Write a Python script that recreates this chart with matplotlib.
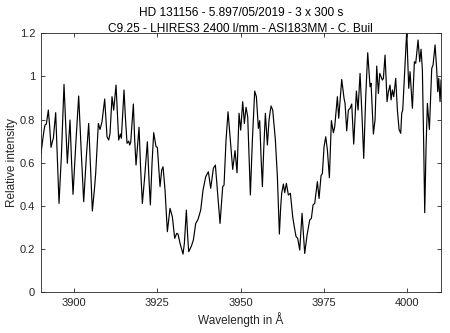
import matplotlib
matplotlib.use("Agg")
import matplotlib.pyplot as plt
from matplotlib.ticker import FuncFormatter

# spectrum, wavelength in Angstrom
wavelength = [
    3890.1, 3890.6, 3891.0, 3891.3, 3891.7, 3892.3, 3892.7, 3893.1, 3893.5, 3893.8,
    3894.5, 3895.0, 3895.5, 3896.2, 3897.0, 3897.5, 3898.0, 3898.8, 3899.2, 3899.7,
    3900.6, 3901.4, 3902.1, 3902.9, 3903.7, 3904.4, 3904.9, 3905.5, 3906.1, 3906.5,
    3907.3, 3907.8, 3908.4, 3909.2, 3909.9, 3910.4, 3910.8, 3911.4, 3911.9, 3912.6,
    3913.0, 3913.4, 3913.9, 3914.2, 3915.0, 3915.4, 3915.9, 3916.4, 3916.7, 3917.0,
    3917.8, 3918.2, 3918.6, 3919.5, 3920.0, 3920.5, 3921.2, 3922.0, 3922.5, 3922.9,
    3923.4, 3923.9, 3924.6, 3925.0, 3925.8, 3926.3, 3926.7, 3927.3, 3928.0, 3928.8,
    3929.5, 3930.2, 3930.8, 3931.2, 3931.8, 3932.7, 3933.1, 3933.7, 3934.1, 3934.4,
    3935.2, 3935.8, 3936.5, 3937.2, 3938.0, 3938.7, 3939.5, 3940.3, 3941.0, 3941.8,
    3942.4, 3943.0, 3943.8, 3944.6, 3945.0, 3945.6, 3946.2, 3946.9, 3947.6, 3948.3,
    3948.9, 3949.5, 3950.0, 3950.6, 3951.1, 3951.6, 3952.1, 3952.5, 3952.9, 3953.5,
    3954.2, 3954.7, 3955.3, 3955.7, 3956.1, 3956.5, 3956.9, 3957.4, 3958.0, 3958.5,
    3959.1, 3959.6, 3960.4, 3961.0, 3961.6, 3962.0, 3962.3, 3962.8, 3963.2, 3963.7,
    3964.3, 3964.9, 3965.6, 3966.1, 3966.6, 3967.1, 3967.7, 3968.4, 3969.2, 3969.9,
    3970.7, 3971.2, 3971.7, 3972.2, 3973.0, 3973.5, 3974.1, 3974.5, 3975.0, 3975.5,
    3976.0, 3976.6, 3977.2, 3977.8, 3978.2, 3979.0, 3979.4, 3980.3, 3981.0, 3981.3,
    3981.8, 3982.3, 3982.8, 3983.3, 3983.9, 3984.7, 3985.2, 3985.8, 3986.4, 3986.9,
    3987.5, 3988.1, 3988.8, 3989.1, 3989.8, 3990.3, 3990.8, 3991.3, 3991.7, 3992.1,
    3992.5, 3992.8, 3993.3, 3993.9, 3994.3, 3994.8, 3995.1, 3995.5, 3995.9, 3996.5,
    3997.0, 3997.5, 3998.0, 3998.3, 3998.6, 3999.2, 3999.8, 4000.4, 4000.8, 4001.5,
    4002.1, 4002.5, 4003.2, 4003.7, 4004.1, 4004.5, 4004.9, 4005.2, 4005.6, 4006.0,
    4006.6, 4007.3, 4007.7, 4008.3, 4008.8, 4009.1, 4009.4, 4009.8, 4010.1,
]
intensity = [
    0.643, 0.705, 0.750, 0.775, 0.779, 0.844, 0.767, 0.671, 0.697, 0.713,
    0.832, 0.628, 0.411, 0.628, 0.963, 0.782, 0.597, 0.798, 0.628, 0.453,
    0.705, 0.909, 0.674, 0.419, 0.628, 0.782, 0.597, 0.376, 0.473, 0.550,
    0.782, 0.754, 0.790, 0.895, 0.720, 0.705, 0.736, 0.906, 0.844, 0.960,
    0.829, 0.705, 0.733, 0.713, 0.937, 0.813, 0.690, 0.700, 0.682, 0.694,
    0.872, 0.705, 0.589, 0.764, 0.566, 0.411, 0.535, 0.697, 0.519, 0.404,
    0.597, 0.739, 0.674, 0.671, 0.489, 0.566, 0.581, 0.473, 0.280, 0.388,
    0.349, 0.249, 0.272, 0.269, 0.226, 0.176, 0.226, 0.380, 0.256, 0.187,
    0.213, 0.241, 0.318, 0.337, 0.380, 0.473, 0.535, 0.558, 0.481, 0.574,
    0.589, 0.473, 0.318, 0.489, 0.496, 0.705, 0.836, 0.705, 0.569, 0.656,
    0.553, 0.829, 0.751, 0.883, 0.782, 0.857, 0.813, 0.628, 0.450, 0.705,
    0.932, 0.906, 0.759, 0.795, 0.628, 0.489, 0.659, 0.829, 0.682, 0.798,
    0.863, 0.844, 0.705, 0.535, 0.269, 0.396, 0.458, 0.501, 0.461, 0.504,
    0.450, 0.458, 0.349, 0.300, 0.257, 0.249, 0.195, 0.365, 0.179, 0.264,
    0.334, 0.342, 0.404, 0.411, 0.512, 0.434, 0.540, 0.550, 0.674, 0.720,
    0.659, 0.530, 0.795, 0.739, 0.767, 0.906, 0.806, 0.986, 0.898, 0.875,
    0.748, 0.844, 0.852, 0.872, 0.686, 0.932, 0.844, 1.014, 0.813, 0.620,
    0.906, 1.110, 0.952, 0.968, 0.733, 0.798, 1.048, 0.921, 1.014, 0.999,
    0.983, 0.991, 1.099, 0.883, 0.929, 0.960, 0.891, 0.937, 0.906, 0.991,
    0.844, 0.754, 0.736, 0.829, 0.844, 1.030, 1.210, 0.945, 1.022, 0.852,
    1.068, 1.061, 1.169, 1.068, 1.126, 1.030, 0.674, 0.368, 0.674, 0.875,
    0.754, 1.037, 1.053, 1.146, 1.030, 0.929, 0.991, 0.883, 0.983,
]

x_ticks = [3900, 3925, 3950, 3975, 4000]
y_ticks = [0, 0.2, 0.4, 0.6, 0.8, 1.0, 1.2]

title_lines = [
    "HD 131156 - 5.897/05/2019 - 3 x 300 s",
    "C9.25 - LHIRES3 2400 l/mm - ASI183MM - C. Buil",
]

plt.rcParams["font.family"] = ["Liberation Sans", "DejaVu Sans"]
axis_grey = "#262626"

fig = plt.figure(figsize=(4.5, 3.33), dpi=100)
ax = fig.add_axes([0.0904, 0.123, 0.889, 0.777])

ax.plot(wavelength, intensity, color="black", lw=0.85,
        solid_joinstyle="round")

ax.set_xlim(3890, 4010)
ax.set_ylim(0, 1.2)
ax.set_xticks(x_ticks)
ax.set_yticks(y_ticks)
ax.yaxis.set_major_formatter(FuncFormatter(lambda v, p: "%g" % v))

ax.tick_params(direction="in", length=3, width=0.6, top=True, right=True,
               labelsize=8, colors=axis_grey, pad=4)
for sp in ax.spines.values():
    sp.set_color(axis_grey)
    sp.set_linewidth(0.6)

ax.set_xlabel("Wavelength in Å", fontsize=8.5, color=axis_grey, labelpad=3)
ax.set_ylabel("Relative intensity", fontsize=8.5, color=axis_grey, labelpad=1)
ax.set_title("\n".join(title_lines), fontsize=8.6, color="black",
             linespacing=1.4, pad=1)

fig.savefig("out.png", dpi=100)
